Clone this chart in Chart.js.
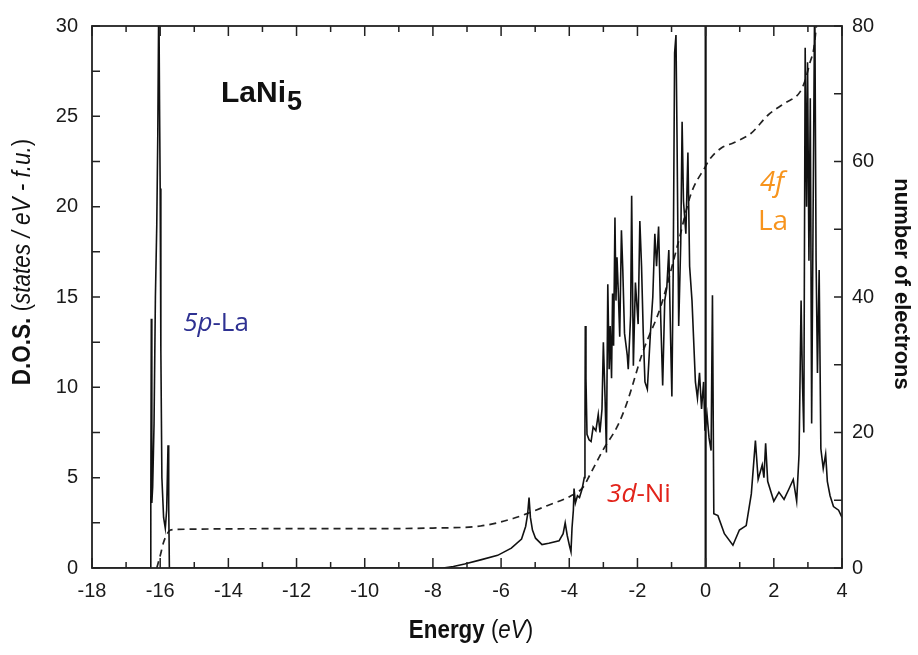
<!DOCTYPE html>
<html>
<head>
<meta charset="utf-8">
<title>LaNi5 DOS</title>
<script src="https://cdn.jsdelivr.net/npm/chart.js@4.4.0/dist/chart.umd.min.js"></script>
<style>
  html, body { margin: 0; padding: 0; background: #fff; }
  #wrap { width: 918px; height: 655px; position: relative; }
</style>
</head>
<body>
<div id="wrap"><canvas id="chart" width="918" height="655"></canvas></div>
<script>
// Energy axis ticks (eV) and the two y axes
var xTicks = [-18, -16, -14, -12, -10, -8, -6, -4, -2, 0, 2, 4];
var dosTicks = [0, 5, 10, 15, 20, 25, 30];
var elecTicks = [0, 20, 40, 60, 80];

// Total DOS (states / eV - f.u.)
var dosEnergy = [
  -18, -16.32, -16.28, -16.275, -16.26, -16.245, -16.22, -16.18, -16.14, -16.1,
  -16.07, -16.04, -16.02, -16.0, -15.98, -15.95, -15.9, -15.85, -15.81, -15.77,
  -15.75, -15.73, -15.7, -7.7, -7.4, -7.07, -6.6, -6.1, -5.7, -5.4,
  -5.28, -5.22, -5.18, -5.14, -5.08, -4.99, -4.8, -4.6, -4.3, -4.18,
  -4.12, -4.06, -3.99, -3.95, -3.92, -3.88, -3.86, -3.82, -3.76, -3.7,
  -3.62, -3.56, -3.54, -3.53, -3.51, -3.48, -3.42, -3.36, -3.3, -3.22,
  -3.15, -3.1, -3.04, -3.0, -2.95, -2.91, -2.87, -2.83, -2.8, -2.76,
  -2.73, -2.7, -2.66, -2.63, -2.6, -2.56, -2.52, -2.47, -2.43, -2.38,
  -2.3, -2.27, -2.2, -2.17, -2.12, -2.06, -1.98, -1.93, -1.88, -1.83,
  -1.78, -1.71, -1.62, -1.55, -1.49, -1.44, -1.38, -1.32, -1.26, -1.2,
  -1.14, -1.08, -1.02, -0.99, -0.95, -0.91, -0.87, -0.84, -0.79, -0.73,
  -0.69, -0.65, -0.58, -0.52, -0.47, -0.4, -0.3, -0.24, -0.18, -0.12,
  -0.06, -0.02, 0.04, 0.1, 0.16, 0.2, 0.24, 0.36, 0.55, 0.8,
  0.99, 1.19, 1.34, 1.46, 1.54, 1.66, 1.71, 1.76, 1.82, 2.0,
  2.15, 2.3, 2.45, 2.57, 2.67, 2.74, 2.8, 2.84, 2.88, 2.92,
  2.96, 2.99, 3.03, 3.07, 3.11, 3.15, 3.2, 3.24, 3.28, 3.33,
  3.38, 3.45, 3.52, 3.57, 3.65, 3.75, 3.9, 4.0
];
var dosValue = [
  0, 0, 0, 3.4, 13.8, 3.6, 4.5, 8, 15, 19,
  24, 32, 26, 21, 12, 5, 2.8, 2.2, 3.2, 6.8,
  3.5, 0, 0, 0, 0.08, 0.22, 0.45, 0.7, 1.1, 1.6,
  2.3, 3.0, 3.9, 2.8, 2.1, 1.65, 1.3, 1.37, 1.5, 1.9,
  2.5, 1.8, 1.2, 0.9, 2.2, 3.2, 4.4, 3.6, 4.0, 3.9,
  4.4, 5.0, 7.5, 13.4, 10.5, 7.4, 7.1, 7.0, 7.8, 7.6,
  8.5, 7.5, 8.8, 12.5, 9.4, 6.4, 15.7, 11, 13.4, 10.5,
  15.2, 12.3, 19.4, 14.8, 17.2, 15.2, 12.8, 18.7, 16.5, 13.0,
  11.8, 11.0, 14, 20.6, 11.2, 15.8, 13.5, 19.2, 16.7, 13.0,
  10.3, 9.9, 13, 15, 18.5, 16.7, 18.9, 14, 10.1, 14.8,
  15.5, 17.6, 12, 9.5, 16.7, 28.5, 29.5, 24, 13.4, 18,
  24.7, 20.3, 18.5, 23.0, 16.7, 14.8, 10.3, 9.4, 10.8, 8.8,
  10.3, 7.6, 8.5, 7.2, 6.5, 15.1, 3.0, 2.9, 1.9, 1.26,
  2.1, 2.35, 4.1, 7.05, 4.9, 5.7, 5.0, 6.9, 4.8, 3.7,
  4.2, 3.8, 4.4, 4.9, 3.7, 6.3, 14.8, 10.3, 7.5, 28.8,
  20, 28, 17, 26, 8, 19, 32, 17, 10.8, 16.5,
  6.6, 5.5, 6.3, 4.8, 4.0, 3.4, 3.2, 2.8
];

// Integrated number of electrons (right axis)
var elecEnergy = [
  -16.1, -16.0, -15.9, -15.8, -15.7, -15.5, -12, -10, -8, -6.6,
  -5.65, -5.15, -4.65, -3.97, -3.6, -3.38, -3.0, -2.58, -2.3, -1.85,
  -1.31, -0.81, -0.43, 0, 0.1, 0.46, 0.84, 1.34, 1.84, 2.32,
  2.76, 2.92, 3.06, 3.17, 3.25, 3.35
];
var elecValue = [
  0, 1.8, 3.8, 5.0, 5.6, 5.7, 5.8, 5.8, 5.9, 6.2,
  7.3, 8.2, 9.2, 10.6, 11.9, 13.9, 17.5, 21, 24.5, 31.8,
  38.7, 47.9, 55.2, 59.3, 60.2, 62, 62.8, 64.2, 66.9, 68.6,
  70.2, 72, 74.6, 76.6, 80, 84
];

// Fermi level marker
var fermiEnergy = 0;
var fermiSpan = [0, 30];

function pairs(xs, ys) {
    return xs.map(function(x, i) { return { x: x, y: ys[i] }; });
}

function minorsBetween(ticks) {
    var out = [];
    for (var i = 0; i < ticks.length - 1; i++) {
        out.push((ticks[i] + ticks[i + 1]) / 2);
    }
    return out;
}

// Draw a row of text runs with different fonts / colours, centred on x
function drawRuns(ctx, runs, x, y) {
    var total = 0;
    runs.forEach(function(r) {
        ctx.font = r.font;
        total += ctx.measureText(r.text).width;
    });
    var cx = x - total / 2;
    ctx.textAlign = 'left';
    ctx.textBaseline = 'middle';
    runs.forEach(function(r) {
        ctx.font = r.font;
        ctx.fillStyle = r.color || '#111';
        ctx.fillText(r.text, cx, y + (r.dy || 0));
        cx += ctx.measureText(r.text).width;
    });
}

var SANS = '"Liberation Sans", Arial, sans-serif';
var LABEL = '"Open Sans", "Noto Sans", sans-serif';

// Frame, inward ticks, titles and band labels
var decorPlugin = {
    id: 'decor',
    afterDraw: function(chart) {
        var ctx = chart.ctx;
        var a = chart.chartArea;
        var sx = chart.scales.x, sy = chart.scales.y, sy2 = chart.scales.y2;
        ctx.save();
        ctx.strokeStyle = '#222';
        ctx.lineWidth = 1.8;
        ctx.strokeRect(a.left, a.top, a.right - a.left, a.bottom - a.top);

        ctx.lineWidth = 1.5;
        ctx.beginPath();
        function vtick(v, len) {
            var px = sx.getPixelForValue(v);
            ctx.moveTo(px, a.bottom); ctx.lineTo(px, a.bottom - len);
            ctx.moveTo(px, a.top); ctx.lineTo(px, a.top + len);
        }
        xTicks.forEach(function(v) { vtick(v, 10); });
        minorsBetween(xTicks).forEach(function(v) { vtick(v, 6); });
        dosTicks.concat(minorsBetween(dosTicks)).forEach(function(v) {
            var py = sy.getPixelForValue(v);
            ctx.moveTo(a.left, py); ctx.lineTo(a.left + 8, py);
        });
        elecTicks.concat(minorsBetween(elecTicks)).forEach(function(v) {
            var py = sy2.getPixelForValue(v);
            ctx.moveTo(a.right, py); ctx.lineTo(a.right - 8, py);
        });
        ctx.stroke();

        // axis titles (narrow bold face, like the original)
        ctx.save();
        ctx.translate(471, 631);
        ctx.scale(0.86, 1);
        drawRuns(ctx, [
            { text: 'Energy ', font: 'bold 26px ' + SANS },
            { text: '(', font: '26px ' + SANS },
            { text: 'eV', font: 'italic 26px ' + SANS },
            { text: ')', font: '26px ' + SANS }
        ], 0, 0);
        ctx.restore();

        ctx.save();
        ctx.translate(23, 262);
        ctx.rotate(-Math.PI / 2);
        ctx.scale(0.9, 1);
        drawRuns(ctx, [
            { text: 'D.O.S. ', font: 'bold 25px ' + SANS },
            { text: '(', font: '25px ' + SANS },
            { text: 'states / eV - f.u.', font: 'italic 25px ' + SANS },
            { text: ')', font: '25px ' + SANS }
        ], 0, 0);
        ctx.restore();

        ctx.save();
        ctx.translate(901, 284);
        ctx.rotate(Math.PI / 2);
        drawRuns(ctx, [
            { text: 'number of electrons', font: 'bold 22px ' + SANS }
        ], 0, 0);
        ctx.restore();

        // compound name and band labels
        ctx.textAlign = 'left';
        ctx.textBaseline = 'alphabetic';
        ctx.fillStyle = '#111';
        ctx.font = 'bold 30px ' + SANS;
        ctx.fillText('LaNi', 221, 102);
        var w = ctx.measureText('LaNi').width;
        ctx.font = 'bold 27px ' + SANS;
        ctx.fillText('5', 221 + w + 1, 110);

        drawRuns(ctx, [
            { text: '5p', font: 'italic 26px ' + LABEL, color: '#2e3192' },
            { text: '-La', font: '26px ' + LABEL, color: '#2e3192' }
        ], 216, 324);
        drawRuns(ctx, [
            { text: '3d', font: 'italic 26px ' + LABEL, color: '#e2231a' },
            { text: '-Ni', font: '26px ' + LABEL, color: '#e2231a' }
        ], 639, 495);
        drawRuns(ctx, [
            { text: '4f', font: 'italic 28px ' + LABEL, color: '#f7941d' }
        ], 772, 183);
        drawRuns(ctx, [
            { text: 'La', font: '28px ' + LABEL, color: '#f7941d' }
        ], 773, 222);
        ctx.restore();
    }
};

var ctx = document.getElementById('chart').getContext('2d');
new Chart(ctx, {
    type: 'line',
    data: {
        datasets: [
            {
                label: 'DOS',
                data: pairs(dosEnergy, dosValue),
                yAxisID: 'y',
                borderColor: '#111',
                borderWidth: 1.6,
                pointRadius: 0,
                tension: 0,
                fill: false
            },
            {
                label: 'Fermi level',
                data: pairs([fermiEnergy, fermiEnergy], fermiSpan),
                yAxisID: 'y',
                borderColor: '#111',
                borderWidth: 2.2,
                pointRadius: 0
            },
            {
                label: 'number of electrons',
                data: pairs(elecEnergy, elecValue),
                yAxisID: 'y2',
                borderColor: '#222',
                borderWidth: 1.7,
                borderDash: [7, 5],
                pointRadius: 0,
                cubicInterpolationMode: 'monotone',
                fill: false
            }
        ]
    },
    options: {
        responsive: false,
        animation: false,
        layout: { padding: { top: 18, left: 0, right: 0, bottom: 0 } },
        plugins: {
            legend: { display: false },
            tooltip: { enabled: false }
        },
        scales: {
            x: {
                type: 'linear',
                min: -18,
                max: 4,
                afterBuildTicks: function(scale) {
                    scale.ticks = xTicks.map(function(v) { return { value: v }; });
                },
                afterFit: function(scale) { scale.height = 87; },
                grid: { display: false, drawTicks: false },
                border: { display: false },
                ticks: {
                    padding: 11,
                    color: '#1a1a1a',
                    font: { family: SANS, size: 20 }
                }
            },
            y: {
                type: 'linear',
                position: 'left',
                min: 0,
                max: 30,
                afterBuildTicks: function(scale) {
                    scale.ticks = dosTicks.map(function(v) { return { value: v }; });
                },
                afterFit: function(scale) { scale.width = 92; },
                grid: { display: false, drawTicks: false },
                border: { display: false },
                ticks: {
                    padding: 14,
                    color: '#1a1a1a',
                    font: { family: SANS, size: 20 }
                }
            },
            y2: {
                type: 'linear',
                position: 'right',
                min: 0,
                max: 80,
                afterBuildTicks: function(scale) {
                    scale.ticks = elecTicks.map(function(v) { return { value: v }; });
                },
                afterFit: function(scale) { scale.width = 76; },
                grid: { display: false, drawTicks: false },
                border: { display: false },
                ticks: {
                    padding: 10,
                    color: '#1a1a1a',
                    font: { family: SANS, size: 20 }
                }
            }
        }
    },
    plugins: [decorPlugin]
});
</script>
</body>
</html>
